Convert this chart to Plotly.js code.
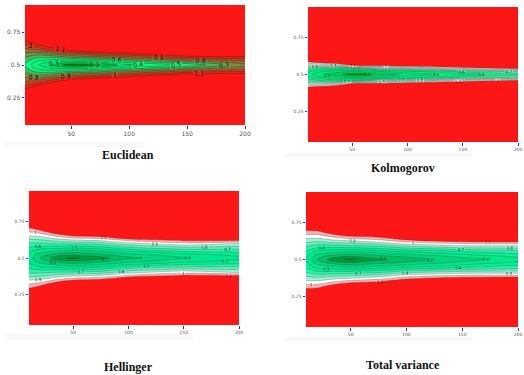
<!DOCTYPE html>
<html>
<head>
<meta charset="utf-8">
<script src="https://cdn.plot.ly/plotly-3.0.1.min.js"></script>
<style>html,body{margin:0;padding:0;background:#fff;}#chart{width:524px;height:375px;}</style>
</head>
<body>
<div id="chart"></div>
<script>
// sample size (x) columns and distance from p = 0.5 (rows, mirrored above/below)
const xCols = [10, 20, 35, 50, 75, 100, 150, 200];
const dOffsets = [0, 0.02, 0.04, 0.06, 0.08, 0.1, 0.12, 0.15, 0.18, 0.22, 0.28, 0.47];
const yTicks = [0.25, 0.5, 0.75];
const xTicks = [50, 100, 150, 200];
const panelTitles = ["Euclidean", "Kolmogorov", "Hellinger", "Total variance"];

// each inner list: values along distance from 0.5 at one x column
const euclidean = [
  [0.60, 0.62, 0.66, 0.71, 0.76, 0.82, 0.88, 0.98, 1.10, 1.30, 1.50, 1.80],
  [0.42, 0.46, 0.54, 0.63, 0.72, 0.82, 0.92, 1.08, 1.22, 1.40, 1.55, 1.85],
  [0.25, 0.36, 0.50, 0.64, 0.78, 0.92, 1.06, 1.22, 1.38, 1.55, 1.70, 1.90],
  [0.15, 0.33, 0.52, 0.72, 0.88, 1.04, 1.18, 1.35, 1.50, 1.62, 1.75, 2.00],
  [0.20, 0.38, 0.58, 0.78, 0.96, 1.12, 1.26, 1.42, 1.55, 1.65, 1.75, 2.00],
  [0.37, 0.52, 0.70, 0.88, 1.04, 1.18, 1.30, 1.45, 1.55, 1.65, 1.75, 2.00],
  [0.52, 0.68, 0.86, 1.04, 1.20, 1.35, 1.45, 1.55, 1.62, 1.70, 1.80, 2.00],
  [0.77, 0.85, 0.95, 1.08, 1.22, 1.35, 1.45, 1.55, 1.62, 1.70, 1.80, 2.00]
];
const kolmogorov = [
  [0.45, 0.52, 0.65, 0.85, 1.05, 1.25, 1.40, 1.55, 1.65, 1.75, 1.85, 2.00],
  [0.32, 0.42, 0.60, 0.85, 1.10, 1.30, 1.42, 1.55, 1.65, 1.75, 1.85, 2.00],
  [0.24, 0.34, 0.55, 0.90, 1.20, 1.35, 1.45, 1.55, 1.65, 1.75, 1.85, 2.00],
  [0.14, 0.30, 0.55, 1.10, 1.35, 1.45, 1.55, 1.62, 1.70, 1.78, 1.86, 2.00],
  [0.22, 0.40, 0.75, 1.12, 1.35, 1.45, 1.55, 1.62, 1.70, 1.78, 1.86, 2.00],
  [0.33, 0.47, 0.80, 1.20, 1.38, 1.48, 1.56, 1.63, 1.70, 1.78, 1.86, 2.00],
  [0.45, 0.62, 1.00, 1.30, 1.42, 1.50, 1.57, 1.64, 1.70, 1.78, 1.86, 2.00],
  [0.58, 0.72, 1.12, 1.35, 1.45, 1.52, 1.58, 1.64, 1.70, 1.78, 1.86, 2.00]
];
const hellinger = [
  [0.45, 0.47, 0.51, 0.56, 0.62, 0.69, 0.77, 0.90, 1.01, 1.15, 1.35, 1.80],
  [0.30, 0.34, 0.42, 0.50, 0.60, 0.69, 0.78, 0.92, 1.06, 1.25, 1.45, 1.85],
  [0.13, 0.24, 0.36, 0.48, 0.60, 0.72, 0.84, 1.02, 1.20, 1.40, 1.60, 1.90],
  [0.08, 0.20, 0.32, 0.45, 0.58, 0.74, 0.88, 1.10, 1.30, 1.50, 1.70, 2.00],
  [0.16, 0.26, 0.37, 0.50, 0.63, 0.77, 0.92, 1.14, 1.35, 1.55, 1.75, 2.00],
  [0.27, 0.35, 0.46, 0.60, 0.75, 0.88, 1.02, 1.30, 1.50, 1.70, 1.85, 2.00],
  [0.39, 0.45, 0.57, 0.70, 0.84, 0.98, 1.12, 1.40, 1.60, 1.75, 1.85, 2.00],
  [0.47, 0.52, 0.60, 0.70, 0.80, 0.90, 1.12, 1.40, 1.60, 1.75, 1.85, 2.00]
];
const totalVariance = [
  [0.50, 0.52, 0.56, 0.62, 0.68, 0.75, 0.82, 0.93, 1.04, 1.20, 1.40, 1.80],
  [0.30, 0.34, 0.42, 0.50, 0.60, 0.70, 0.80, 0.93, 1.05, 1.22, 1.42, 1.85],
  [0.13, 0.24, 0.36, 0.48, 0.60, 0.72, 0.84, 1.00, 1.16, 1.36, 1.56, 1.90],
  [0.08, 0.20, 0.32, 0.45, 0.60, 0.74, 0.86, 1.06, 1.25, 1.45, 1.65, 2.00],
  [0.18, 0.26, 0.37, 0.50, 0.64, 0.78, 0.92, 1.10, 1.30, 1.50, 1.70, 2.00],
  [0.24, 0.31, 0.42, 0.56, 0.72, 0.88, 1.02, 1.22, 1.42, 1.60, 1.78, 2.00],
  [0.36, 0.42, 0.52, 0.64, 0.80, 0.95, 1.10, 1.35, 1.55, 1.72, 1.85, 2.00],
  [0.44, 0.52, 0.60, 0.70, 0.82, 0.95, 1.12, 1.40, 1.60, 1.75, 1.86, 2.00]
];

// fill colours, one per band: <0.1, 0.1-0.2, ..., 1.0-1.1, >1.1
const euclidColors = ["rgb(0,110,0)","rgb(0,140,10)","rgb(0,195,70)","rgb(0,235,115)","rgb(0,250,127)","rgb(15,245,125)","rgb(60,190,95)","rgb(115,145,72)","rgb(150,110,58)","rgb(190,72,40)","rgb(228,40,28)","rgb(252,22,22)"];
const kolmoColors = ["rgb(0,120,20)","rgb(0,155,25)","rgb(0,205,85)","rgb(0,230,120)","rgb(0,240,130)","rgb(20,242,140)","rgb(70,238,160)","rgb(130,236,190)","rgb(185,232,212)","rgb(222,228,224)","rgb(235,220,220)","rgb(252,22,22)"];
const hellColors = ["rgb(0,125,35)","rgb(0,155,60)","rgb(0,190,100)","rgb(0,215,125)","rgb(0,232,140)","rgb(0,242,150)","rgb(45,243,168)","rgb(100,242,188)","rgb(155,245,212)","rgb(255,255,255)","rgb(248,178,178)","rgb(252,22,22)"];

// ---- build grids ----
const yGrid = dOffsets.slice(1).reverse().map(d => +(0.5 - d).toFixed(4)).concat(dOffsets.map(d => +(0.5 + d).toFixed(4)));
const nHalf = dOffsets.length - 1;
function buildZ(profiles) {
  return yGrid.map((_, j) => {
    const di = Math.abs(j - nHalf);
    return xCols.map((_, i) => profiles[i][di]);
  });
}
function scale(colors) {
  const n = colors.length - 1;
  return colors.map((c, k) => [k / n, c]);
}
function trace(profiles, colors, xa, ya, lblSize, lineColor) {
  return {
    type: 'contour', x: xCols, y: yGrid, z: buildZ(profiles),
    xaxis: xa, yaxis: ya, showscale: false,
    colorscale: scale(colors),
    autocontour: false,
    contours: {start: 0.1, end: 1.1, size: 0.1, coloring: 'fill', showlabels: true,
               labelfont: {size: lblSize, color: '#000', family: 'DejaVu Sans'}},
    line: {width: 0.5, color: lineColor, smoothing: 1},
    hoverinfo: 'skip'
  };
}
const data = [
  trace(euclidean, euclidColors, 'x', 'y', 6.5, 'rgba(60,30,10,0.75)'),
  trace(kolmogorov, kolmoColors, 'x2', 'y2', 4, 'rgba(50,50,50,0.55)'),
  trace(hellinger, hellColors, 'x3', 'y3', 4, 'rgba(50,50,50,0.55)'),
  trace(totalVariance, hellColors, 'x4', 'y4', 4, 'rgba(50,50,50,0.55)')
];

const W = 524, H = 375;
function xDom(a, b) { return [a / W, b / W]; }
function yDom(top, bottom) { return [1 - bottom / H, 1 - top / H]; }
function xAx(domain, anchor, fs) {
  return {domain: domain, anchor: anchor, range: [10, 200], tickvals: xTicks, ticks: 'outside',
    ticklen: 2.5, tickwidth: 1, tickcolor: '#2a2aff', tickfont: {size: fs, color: '#555', family: 'DejaVu Sans'},
    showgrid: false, zeroline: false, showline: false};
}
function yAx(domain, anchor, fs) {
  return {domain: domain, anchor: anchor, range: [0.045, 0.955], tickvals: yTicks, ticks: 'outside',
    ticklen: 2.5, tickwidth: 1, tickcolor: '#2a2aff', tickfont: {size: fs, color: '#555', family: 'DejaVu Sans'},
    showgrid: false, zeroline: false, showline: false};
}
const titlePos = [[0.2437, 0.5867], [0.7685, 0.552], [0.2443, 0.0221], [0.7685, 0.0267]];
const annotations = panelTitles.map((t, i) => ({
  text: '<b>' + t + '</b>', xref: 'paper', yref: 'paper', x: titlePos[i][0], y: titlePos[i][1],
  xanchor: 'center', yanchor: 'middle', showarrow: false,
  font: {family: 'Liberation Serif', size: 12, color: '#111'}
}));
const shade = [[5, 145, 142, 147], [284, 472, 153, 157], [5, 193, 334, 341], [284, 472, 337, 341]];
const shapes = shade.map(s => ({type: 'rect', xref: 'paper', yref: 'paper', layer: 'below',
  x0: s[0] / W, x1: s[1] / W, y0: 1 - s[3] / H, y1: 1 - s[2] / H,
  fillcolor: 'rgba(0,0,0,0.025)', line: {width: 0}}));

const layout = {
  width: W, height: H, margin: {l: 0, r: 0, t: 0, b: 0},
  paper_bgcolor: '#fff', plot_bgcolor: '#fff', showlegend: false,
  xaxis: xAx(xDom(25, 245), 'y', 6), yaxis: yAx(yDom(5, 125), 'x', 6),
  xaxis2: xAx(xDom(308, 518), 'y2', 4.5), yaxis2: yAx(yDom(7, 142), 'x2', 4.5),
  xaxis3: xAx(xDom(29, 239), 'y3', 4.5), yaxis3: yAx(yDom(191, 325), 'x3', 4.5),
  xaxis4: xAx(xDom(306, 518), 'y4', 4.5), yaxis4: yAx(yDom(192, 327), 'x4', 4.5),
  annotations: annotations, shapes: shapes
};
Plotly.newPlot('chart', data, layout, {staticPlot: true, displayModeBar: false});
</script>
</body>
</html>
